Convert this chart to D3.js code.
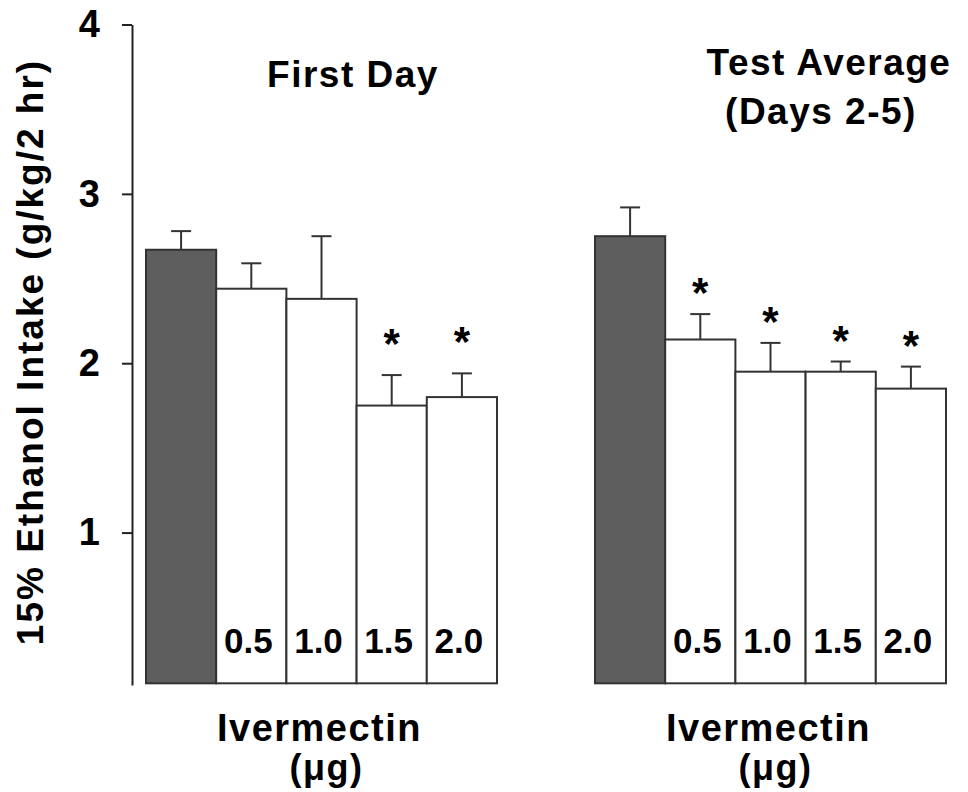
<!DOCTYPE html>
<meta charset="utf-8">
<style>
  body { margin: 0; background: #fff; }
  text { font-family: "Liberation Sans", Arial, sans-serif; font-weight: bold; fill: #000; }
</style>
<script src="https://cdn.jsdelivr.net/npm/d3@7"></script>
<div id="chart"></div>
<script>
// doses (first bar is vehicle control, no label)
var doses = ["0", "0.5", "1.0", "1.5", "2.0"];
var doseLabels = ["", "0.5", "1.0", "1.5", "2.0"];

// First Day
var firstDayMean = [2.67, 2.44, 2.38, 1.75, 1.80];
var firstDaySem  = [0.11, 0.15, 0.37, 0.18, 0.14];
var firstDaySig  = [false, false, false, true, true];

// Test average, days 2-5
var testAvgMean = [2.75, 2.14, 1.95, 1.95, 1.85];
var testAvgSem  = [0.17, 0.15, 0.17, 0.06, 0.13];
var testAvgSig  = [false, true, true, true, true];

var yTicks = [1, 2, 3, 4];

var W = 968, H = 792;
var svg = d3.select("#chart").append("svg")
  .attr("width", W).attr("height", H);

// y scale: axis runs a little below 0.1
var y = d3.scaleLinear().domain([0.1, 4]).range([685, 24.5]);
var base = 0.11;

svg.append("g")
  .attr("transform", "translate(132,0)")
  .call(d3.axisLeft(y).tickValues(yTicks).tickSize(10).tickSizeOuter(0).tickPadding(22).tickFormat(d3.format("d")))
  .call(function(g) {
    g.selectAll("path, line").attr("stroke", "#222").attr("stroke-width", 2);
    g.selectAll("text").attr("font-size", 38).attr("font-family", null);
  });

// y-axis title
svg.append("text")
  .attr("transform", "translate(43,352) rotate(-90)")
  .attr("text-anchor", "middle")
  .attr("font-size", 37)
  .attr("letter-spacing", 2)
  .text("15% Ethanol Intake (g/kg/2 hr)");

var panels = [
  {mean: firstDayMean, sem: firstDaySem, sig: firstDaySig, x0: 146, x1: 497, starOff: 37,
   title: [{t: "First Day", x: 353, y: 87}]},
  {mean: testAvgMean, sem: testAvgSem, sig: testAvgSig, x0: 595, x1: 946, starOff: 27,
   title: [{t: "Test Average", x: 829, y: 75}, {t: "(Days 2-5)", x: 821, y: 124}]}
];

panels.forEach(function(p) {
  var x = d3.scaleBand().domain(doses).range([p.x0, p.x1]).paddingInner(0);
  var g = svg.append("g");
  var rows = doses.map(function(d, i) {
    return {dose: d, label: doseLabels[i], mean: p.mean[i], sem: p.sem[i], sig: p.sig[i], i: i};
  });

  // error bars (upper only)
  g.selectAll(".err").data(rows).enter().append("line")
    .attr("x1", function(d) { return x(d.dose) + x.bandwidth() / 2; })
    .attr("x2", function(d) { return x(d.dose) + x.bandwidth() / 2; })
    .attr("y1", function(d) { return y(d.mean); })
    .attr("y2", function(d) { return y(d.mean + d.sem); })
    .attr("stroke", "#333").attr("stroke-width", 2);
  g.selectAll(".cap").data(rows).enter().append("line")
    .attr("x1", function(d) { return x(d.dose) + x.bandwidth() / 2 - 10; })
    .attr("x2", function(d) { return x(d.dose) + x.bandwidth() / 2 + 10; })
    .attr("y1", function(d) { return y(d.mean + d.sem); })
    .attr("y2", function(d) { return y(d.mean + d.sem); })
    .attr("stroke", "#333").attr("stroke-width", 2);

  g.selectAll(".bar").data(rows).enter().append("rect")
    .attr("x", function(d) { return x(d.dose); })
    .attr("width", x.bandwidth())
    .attr("y", function(d) { return y(d.mean); })
    .attr("height", function(d) { return y(base) - y(d.mean); })
    .attr("fill", function(d) { return d.i === 0 ? "#5e5e5e" : "#fff"; })
    .attr("stroke", "#333").attr("stroke-width", 2);

  // dose labels inside the bars
  g.selectAll(".dl").data(rows).enter().append("text")
    .attr("x", function(d) { return x(d.dose) + x.bandwidth() / 2 - 3; })
    .attr("y", 653)
    .attr("text-anchor", "middle")
    .attr("font-size", 35)
    .text(function(d) { return d.label; });

  // significance stars
  g.selectAll(".star").data(rows.filter(function(d) { return d.sig; })).enter().append("text")
    .attr("x", function(d) { return x(d.dose) + x.bandwidth() / 2; })
    .attr("y", function(d) { return y(d.mean + d.sem) - p.starOff + 20; })
    .attr("text-anchor", "middle")
    .attr("font-size", 42)
    .text("*");

  p.title.forEach(function(t) {
    svg.append("text").attr("x", t.x).attr("y", t.y)
      .attr("text-anchor", "middle").attr("font-size", 37).attr("letter-spacing", 1.5)
      .text(t.t);
  });

  var cx = (p.x0 + p.x1) / 2 - 2;
  svg.append("text").attr("x", cx).attr("y", 741)
    .attr("text-anchor", "middle").attr("font-size", 38).attr("letter-spacing", 1.5)
    .text("Ivermectin");
  svg.append("text").attr("x", cx + 7).attr("y", 780)
    .attr("text-anchor", "middle").attr("font-size", 36).attr("letter-spacing", 1.5)
    .text("(\u03bcg)");
});
</script>
